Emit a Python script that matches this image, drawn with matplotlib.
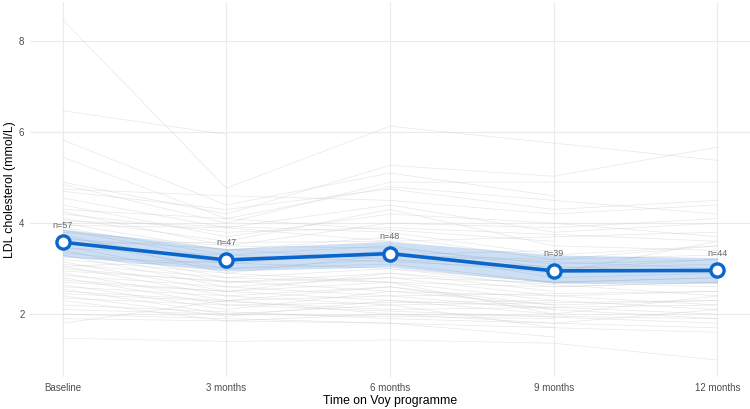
import numpy as np
import matplotlib
matplotlib.use("Agg")
import matplotlib.pyplot as plt

plt.rcParams['font.family'] = ['Liberation Sans', 'DejaVu Sans']

timepoints = ["Baseline", "3 months", "6 months", "9 months", "12 months"]
nan = np.nan

# individual participant trajectories (mmol/L), NaN = no measurement
subjects = [
    [8.47, 4.77, 6.13, 5.76, 5.38],
    [6.47, 5.95, nan, nan, nan],
    [5.83, 4.40, 5.10, 4.60, nan],
    [5.45, 4.10, 4.80, nan, 4.20],
    [4.90, 4.20, 5.27, 5.03, 5.67],
    [4.85, 4.00, 4.90, 4.90, 4.90],
    [4.70, 4.30, 4.75, 4.30, 4.50],
    [4.55, 3.90, 4.40, 3.80, 4.00],
    [4.40, 3.70, 4.20, 4.00, 3.70],
    [4.30, 4.10, nan, 3.60, nan],
    [4.25, 3.50, 4.00, 3.90, 4.10],
    [4.20, 3.80, 3.90, nan, 3.60],
    [4.10, 3.60, 4.30, 3.50, 3.40],
    [4.05, nan, 3.80, 3.30, 3.50],
    [4.00, 3.40, 3.70, 3.20, 3.30],
    [3.95, 3.90, 3.60, nan, 3.80],
    [3.90, 3.30, 3.50, 3.00, 3.10],
    [3.85, 3.20, nan, 3.40, nan],
    [3.80, 3.50, 3.45, 3.10, 3.20],
    [3.75, 2.90, 3.30, nan, 3.00],
    [3.70, 3.10, 3.40, 2.80, 2.90],
    [3.65, nan, 3.20, 2.90, 3.60],
    [3.60, 3.00, 3.10, 2.70, 2.80],
    [3.55, nan, 3.60, nan, nan],
    [3.50, 2.80, 3.00, 2.60, 2.70],
    [3.45, 3.30, nan, 3.00, 3.20],
    [3.40, 2.70, 2.90, 2.50, nan],
    [3.35, 3.00, 3.20, nan, 2.90],
    [3.30, 2.60, 2.80, 2.40, 2.50],
    [3.25, nan, 3.00, 2.70, 2.80],
    [3.20, 2.90, 2.70, 2.30, nan],
    [3.15, 2.50, 2.90, nan, 2.40],
    [3.10, 2.80, nan, 2.60, 2.70],
    [3.05, 2.40, 2.60, 2.20, 2.30],
    [3.00, 2.70, 2.80, nan, 2.60],
    [2.95, nan, 2.50, 2.40, 2.20],
    [2.90, 2.30, 2.60, 2.10, nan],
    [2.85, 2.60, 2.40, nan, 2.50],
    [2.80, 2.20, nan, 2.30, 2.10],
    [2.75, 2.50, 2.70, 2.00, 2.40],
    [2.70, nan, 2.30, nan, 2.00],
    [2.65, 2.10, 2.50, 2.20, nan],
    [2.60, 2.40, 2.20, nan, 2.30],
    [2.55, 2.00, nan, 1.90, nan],
    [2.50, 2.30, 2.40, 2.10, 1.90],
    [2.45, nan, 2.10, nan, 2.20],
    [2.40, 1.95, 2.30, 2.00, nan],
    [2.35, 2.20, nan, nan, 1.80],
    [2.30, 1.85, 2.00, 1.80, 2.10],
    [2.20, nan, 1.90, nan, 1.70],
    [2.10, 2.00, 2.20, 1.70, nan],
    [2.00, 1.90, nan, nan, 1.60],
    [1.90, nan, 1.80, 1.50, nan],
    [1.80, 2.30, 2.00, nan, 1.90],
    [1.47, 1.40, 1.43, 1.36, 0.99],
    [4.75, 4.60, 4.50, 4.20, 4.40],
    [3.05, nan, 3.30, 3.20, 3.50],
]

# group summary
mean_ldl = [3.58, 3.19, 3.33, 2.95, 2.96]
ci_low = [3.27, 2.95, 3.04, 2.68, 2.68]
ci_high = [3.87, 3.44, 3.60, 3.30, 3.24]
n_labels = [57, 47, 48, 39, 44]

fig = plt.figure(figsize=(7.5, 4.09), dpi=100)
ax = fig.add_axes([0.040, 0.078, 0.960, 0.917])

x = np.arange(len(timepoints))
for s in subjects:
    arr = np.array(s, dtype=float)
    m = ~np.isnan(arr)
    ax.plot(x[m], arr[m], color='#c8c8c8', lw=0.5, alpha=0.42, zorder=2)

blue = '#0A66CC'
ax.fill_between(x, ci_low, ci_high, color='#1f6fd0', alpha=0.22, lw=0, zorder=3)
ax.plot(x, mean_ldl, color=blue, lw=2.6, zorder=4, solid_capstyle='butt')
ax.plot(x, mean_ldl, 'o', ms=9.5, mfc='white', mec=blue, mew=2.4, zorder=5)
for xi, yi, n in zip(x, mean_ldl, n_labels):
    ax.annotate(f"n={n}", (xi, yi), xytext=(0, 9), textcoords='offset points',
                ha='center', va='bottom', fontsize=6.5, color='#666666', zorder=6)

ax.set_xlim(-0.2, 4.2)
ax.set_ylim(0.615, 8.86)
ax.set_xticks(x)
ax.set_xticklabels(timepoints)
ax.set_yticks([2, 4, 6, 8])
ax.tick_params(length=0, labelsize=7, labelcolor='#4d4d4d', pad=4)
ax.grid(True, color='#ebebeb', lw=0.8)
ax.set_axisbelow(True)
for sp in ax.spines.values():
    sp.set_visible(False)
ax.set_xlabel("Time on Voy programme", fontsize=8.8, color='black', labelpad=2)
ax.set_ylabel("LDL cholesterol (mmol/L)", fontsize=8.8, color='black', labelpad=2)

fig.savefig("out.png", dpi=100, facecolor='white')
